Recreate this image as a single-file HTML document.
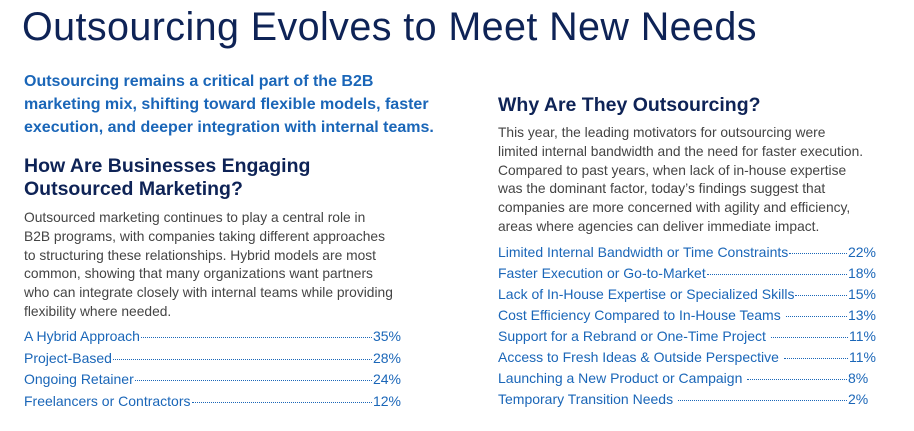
<!DOCTYPE html>
<html><head><meta charset="utf-8"><style>
*{margin:0;padding:0;box-sizing:border-box}
body{width:914px;height:431px;background:#fff;position:relative;overflow:hidden;font-family:"Liberation Sans",sans-serif}
.a{position:absolute;white-space:nowrap}
h1{position:absolute;left:22px;top:5px;font-size:39.5px;font-weight:400;color:#0e2356;letter-spacing:0.4px}
.intro{left:24px;top:70px;font-size:16px;font-weight:700;color:#1a66b8;line-height:23px}
.h2{font-size:19.5px;font-weight:700;color:#0e2356;line-height:23px}
.body{font-size:13.8px;color:#444;line-height:18.8px}
.list{font-size:14px;color:#1a66b8}
.row{display:flex;align-items:baseline;height:21.5px}
.row .d{flex:1;border-bottom:1px dotted #1a66b8;margin:0 1px 0 1px;height:1px;transform:translateY(-3px)}
</style></head><body>
<h1>Outsourcing Evolves to Meet New Needs</h1>
<div class="a intro">Outsourcing remains a critical part of the B2B<br>marketing mix, shifting toward flexible models, faster<br>execution, and deeper integration with internal teams.</div>
<div class="a h2" style="left:24px;top:155px">How Are Businesses Engaging<br>Outsourced Marketing?</div>
<div class="a body" style="left:24px;top:209px">Outsourced marketing continues to play a central role in<br>B2B programs, with companies taking different approaches<br>to structuring these relationships. Hybrid models are most<br>common, showing that many organizations want partners<br>who can integrate closely with internal teams while providing<br>flexibility where needed.</div>
<div class="a list" style="left:24px;top:328px;width:377px">
<div class="row"><span>A Hybrid Approach</span><span class="d"></span><span>35%</span></div>
<div class="row"><span>Project-Based</span><span class="d"></span><span>28%</span></div>
<div class="row"><span>Ongoing Retainer</span><span class="d"></span><span>24%</span></div>
<div class="row"><span>Freelancers or Contractors</span><span class="d"></span><span>12%</span></div>
</div>
<div class="a h2" style="left:498px;top:94px">Why Are They Outsourcing?</div>
<div class="a body" style="left:498px;top:124px">This year, the leading motivators for outsourcing were<br>limited internal bandwidth and the need for faster execution.<br>Compared to past years, when lack of in-house expertise<br>was the dominant factor, today’s findings suggest that<br>companies are more concerned with agility and efficiency,<br>areas where agencies can deliver immediate impact.</div>
<div class="a list" style="left:498px;top:244px;width:378px">
<div class="row" style="height:21px"><span>Limited Internal Bandwidth or Time Constraints</span><span class="d"></span><span>22%</span></div>
<div class="row" style="height:21px"><span>Faster Execution or Go-to-Market</span><span class="d"></span><span>18%</span></div>
<div class="row" style="height:21px"><span>Lack of In-House Expertise or Specialized Skills</span><span class="d"></span><span>15%</span></div>
<div class="row" style="height:21px"><span>Cost Efficiency Compared to In-House Teams&nbsp;</span><span class="d"></span><span>13%</span></div>
<div class="row" style="height:21px"><span>Support for a Rebrand or One-Time Project&nbsp;</span><span class="d"></span><span>11%</span></div>
<div class="row" style="height:21px"><span>Access to Fresh Ideas &amp; Outside Perspective&nbsp;</span><span class="d"></span><span>11%</span></div>
<div class="row" style="height:21px"><span>Launching a New Product or Campaign&nbsp;</span><span class="d"></span><span>8%&nbsp;&nbsp;</span></div>
<div class="row" style="height:21px"><span>Temporary Transition Needs&nbsp;</span><span class="d"></span><span>2%&nbsp;&nbsp;</span></div>
</div>
</body></html>
